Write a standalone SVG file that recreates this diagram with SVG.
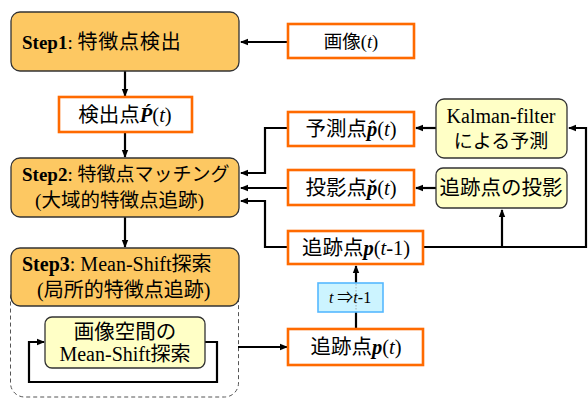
<svg xmlns="http://www.w3.org/2000/svg" width="588" height="398" viewBox="0 0 588 398">
<defs>
<marker id="ah" markerWidth="8" markerHeight="8" refX="7" refY="4" orient="auto" markerUnits="userSpaceOnUse">
<path d="M0,0.8 L8,4 L0,7.2 Z" fill="#000"/>
</marker>
<style>
.t{font-family:"Liberation Serif","Noto Sans CJK JP",serif;fill:#000}
.step{fill:#FDC862;stroke:#333;stroke-width:1.3}
.yel{fill:#FFFFC6;stroke:#333;stroke-width:1.3}
.org{fill:#fff;stroke:#FF6A00;stroke-width:2.6}
.blu{fill:#CCF4FF;stroke:#55B8FF;stroke-width:1.6}
.ln{fill:none;stroke:#000;stroke-width:2.2}
.b{font-weight:bold}
.i{font-style:italic}
.bi{font-weight:bold;font-style:italic}
</style>
</defs>
<rect x="10.5" y="282" width="228" height="115" rx="14" fill="none" stroke="#555" stroke-width="1" stroke-dasharray="4,3"/>
<g id="connectors">
<path class="ln" d="M288,42 L241,42" marker-end="url(#ah)"/>
<path class="ln" d="M125,71 L125,96" marker-end="url(#ah)"/>
<path class="ln" d="M125,132 L125,157" marker-end="url(#ah)"/>
<path class="ln" d="M125,217 L125,247" marker-end="url(#ah)"/>
<path class="ln" d="M288,128 L265,128 L265,173 L241,173" marker-end="url(#ah)"/>
<path class="ln" d="M288,188 L241,188" marker-end="url(#ah)"/>
<path class="ln" d="M288,247 L265,247 L265,201 L241,201" marker-end="url(#ah)"/>
<path class="ln" d="M436,128 L416,128" marker-end="url(#ah)"/>
<path class="ln" d="M436,188 L416,188" marker-end="url(#ah)"/>
<path class="ln" d="M423,247 L586,247 L586,128 L569,128" marker-end="url(#ah)"/>
<path class="ln" d="M502,247 L502,210" marker-end="url(#ah)"/>
<path class="ln" d="M356,329 L356,266" marker-end="url(#ah)"/>
<path class="ln" d="M238,347 L287,347" marker-end="url(#ah)"/>
<path class="ln" d="M205,342 L217,342 L217,382 L29,382 L29,342 L44,342" marker-end="url(#ah)"/>
</g>
<g id="step1">
<rect class="step" x="11" y="12" width="228" height="59" rx="9"/>
<text class="t" x="22" y="49" font-size="19"><tspan class="b">Step1</tspan>: <tspan font-size="20" letter-spacing="0.8">特徴点検出</tspan></text>
</g>
<g id="image">
<rect class="org" x="288" y="24" width="126" height="34"/>
<text class="t" x="351" y="48" font-size="18.5" text-anchor="middle">画像(<tspan class="i">t</tspan>)</text>
</g>
<g id="detected">
<rect class="org" x="59" y="97" width="133" height="35"/>
<text class="t" x="125" y="122" font-size="20.5" text-anchor="middle">検出点<tspan class="bi">P&#x301;</tspan>(<tspan class="i">t</tspan>)</text>
</g>
<g id="step2">
<rect class="step" x="11" y="158" width="228" height="59" rx="9"/>
<text class="t" x="22" y="181" font-size="19"><tspan class="b">Step2</tspan>: 特徴点マッチング</text>
<text class="t" x="35" y="207" font-size="19.5">(大域的特徴点追跡)</text>
</g>
<g id="step3">
<rect class="step" x="11" y="248" width="228" height="58" rx="9"/>
<text class="t" x="22" y="271" font-size="20"><tspan class="b">Step3</tspan>: Mean-Shift探索</text>
<text class="t" x="37" y="297" font-size="20">(局所的特徴点追跡)</text>
</g>
<g id="msearch">
<rect class="yel" x="45" y="317" width="160" height="51" rx="7"/>
<text class="t" x="125" y="339" font-size="20.5" text-anchor="middle">画像空間の</text>
<text class="t" x="125" y="361" font-size="20" text-anchor="middle">Mean-Shift探索</text>
</g>
<g id="predicted">
<rect class="org" x="288" y="112" width="126" height="34"/>
<text class="t" x="351" y="136" font-size="20.5" text-anchor="middle">予測点<tspan class="bi">p&#x302;</tspan>(<tspan class="i">t</tspan>)</text>
</g>
<g id="projected">
<rect class="org" x="288" y="170" width="126" height="35"/>
<text class="t" x="351" y="195" font-size="20.5" text-anchor="middle">投影点<tspan class="bi">p&#x30C;</tspan>(<tspan class="i">t</tspan>)</text>
</g>
<g id="kalman">
<rect class="yel" x="436" y="99" width="131" height="59" rx="8"/>
<text class="t" x="501" y="123" font-size="20" text-anchor="middle">Kalman-filter</text>
<text class="t" x="501" y="148" font-size="19" text-anchor="middle">による予測</text>
</g>
<g id="projection">
<rect class="yel" x="436" y="168" width="131" height="40" rx="7"/>
<text class="t" x="501" y="195" font-size="20.5" text-anchor="middle">追跡点の投影</text>
</g>
<g id="tracked_prev">
<rect class="org" x="288" y="231" width="135" height="33"/>
<text class="t" x="356" y="255" font-size="20.5" text-anchor="middle">追跡点<tspan class="bi">p</tspan>(<tspan class="i">t</tspan>-1)</text>
</g>
<g id="shift">
<rect class="blu" x="318" y="283" width="65" height="29"/>
<line x1="356" y1="284" x2="356" y2="311" stroke="#999" stroke-width="0.8" stroke-dasharray="1.5,1.5"/>
<text class="t" x="350" y="303" font-size="16" text-anchor="middle"><tspan class="i">t</tspan> ⇒<tspan class="i">t</tspan>-1</text>
</g>
<g id="tracked">
<rect class="org" x="288" y="329" width="135" height="36"/>
<text class="t" x="356" y="354" font-size="20.5" text-anchor="middle">追跡点<tspan class="bi">p</tspan>(<tspan class="i">t</tspan>)</text>
</g>
</svg>
